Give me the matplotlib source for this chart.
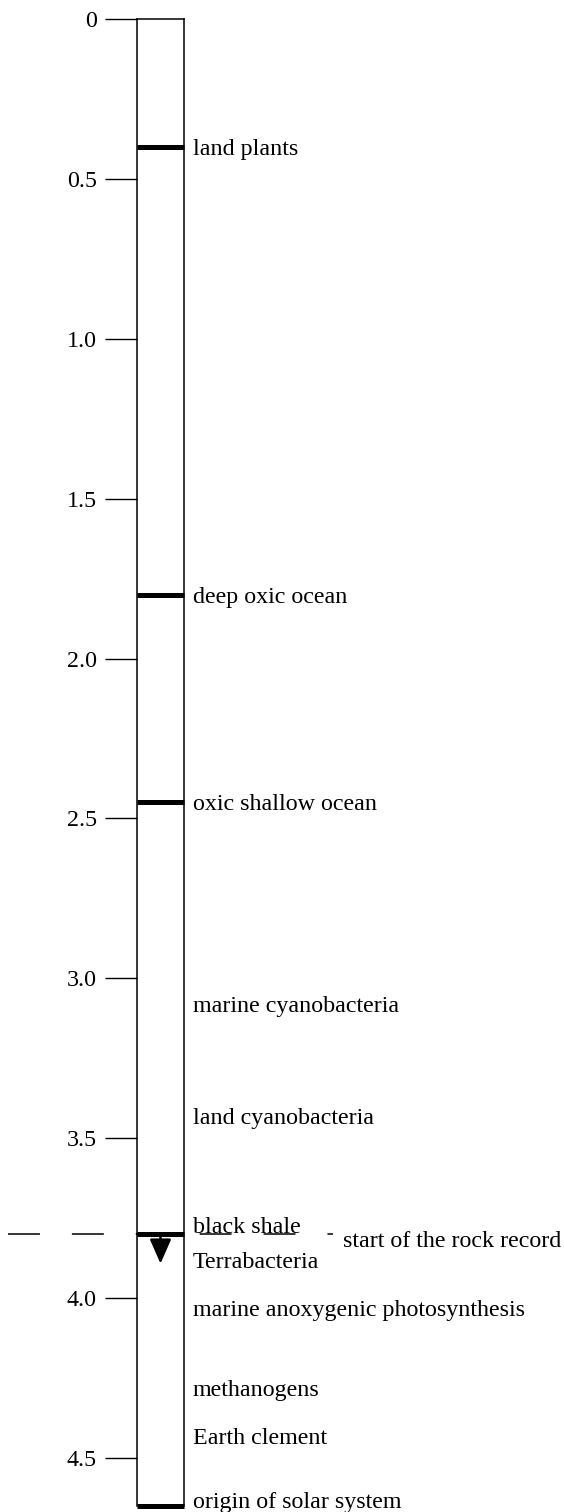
import matplotlib
matplotlib.use("Agg")
import matplotlib.pyplot as plt
import matplotlib.transforms as mtransforms

plt.rcParams["font.family"] = ["Liberation Serif", "DejaVu Serif"]
plt.rcParams["lines.scale_dashes"] = False

# events drawn as thick bars across the column (Ga)
bar_ages = [0.4, 1.8, 2.45, 3.8, 4.65]

# labels on the right side and their positions (Ga)
label_texts = ["land plants", "deep oxic ocean", "oxic shallow ocean",
               "marine cyanobacteria", "land cyanobacteria", "black shale",
               "Terrabacteria", "marine anoxygenic photosynthesis",
               "methanogens", "Earth clement", "origin of solar system"]
label_ages = [0.4, 1.8, 2.45, 3.08, 3.43, 3.77, 3.88, 4.03, 4.28, 4.43, 4.63]

tick_vals = [0, 0.5, 1.0, 1.5, 2.0, 2.5, 3.0, 3.5, 4.0, 4.5]
tick_labels = ["0", "0.5", "1.0", "1.5", "2.0", "2.5", "3.0", "3.5", "4.0", "4.5"]

rock_record_age = 3.8
arrow_tip = 3.892
age_max = 4.65

FS = 17.3
W, H = 564, 1512
fig = plt.figure(figsize=(W / 100, H / 100), dpi=100)
ax = fig.add_axes([137 / W, 1 - 1506 / H, 47 / W, (1506 - 19) / H])

ax.set_xlim(0, 1)
ax.set_ylim(age_max, 0)
ax.set_xticks([])
ax.set_yticks(tick_vals)
ax.set_yticklabels(tick_labels)
ax.tick_params(axis="y", direction="out", length=23, width=1.0, pad=6,
               labelsize=FS, colors="black")
for s in ax.spines.values():
    s.set_linewidth(1.1)
ax.spines["bottom"].set_visible(False)

for a in bar_ages:
    ax.plot([0, 1], [a, a], color="black", lw=3.6, solid_capstyle="butt",
            clip_on=False, zorder=5)

trans = mtransforms.blended_transform_factory(fig.transFigure, ax.transData)

for t, a in zip(label_texts, label_ages):
    ax.text(193 / W, a, t, transform=trans,
            ha="left", va="center_baseline", fontsize=FS)

# dashed line marking the start of the rock record
ax.plot([8 / W, 333 / W], [rock_record_age, rock_record_age], transform=trans,
        color="black", lw=1.1, dashes=(23, 23), clip_on=False, zorder=1)
ax.text(343 / W, rock_record_age + 0.015, "start of the rock record", transform=trans,
        ha="left", va="center_baseline", fontsize=FS)

ax.annotate("", xy=(0.5, arrow_tip), xytext=(0.5, rock_record_age),
            arrowprops=dict(arrowstyle="-|>,head_length=0.75,head_width=0.33",
                            mutation_scale=20, color="black", lw=1.8,
                            shrinkA=0, shrinkB=0))

fig.savefig("out.png", dpi=100)
